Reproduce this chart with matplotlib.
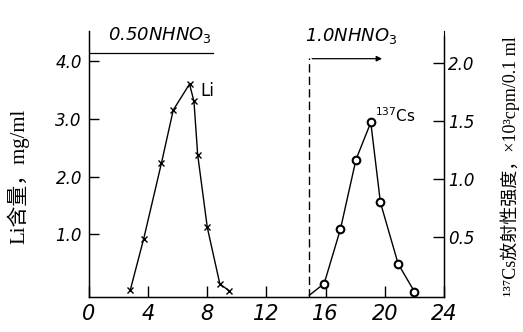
import matplotlib.pyplot as plt
from matplotlib.ticker import FixedLocator

# data
li_x = [2.8, 3.7, 4.9, 5.7, 6.8, 7.1, 7.35, 8.0, 8.85, 9.5]
li_y = [0.04, 0.92, 2.23, 3.15, 3.6, 3.3, 2.38, 1.12, 0.14, 0.02]

cs_x = [15.9, 17.0, 18.05, 19.05, 19.7, 20.9, 22.0]
cs_y = [0.10, 0.57, 1.17, 1.49, 0.80, 0.27, 0.03]
cs_start = (14.9, 0.0)   # curve starts at the eluent change

x_ticks = [0, 4, 8, 12, 16, 20, 24]
li_ticks = [1.0, 2.0, 3.0, 4.0]
li_tick_labels = ['1.0', '2.0', '3.0', '4.0']
cs_ticks = [0.5, 1.0, 1.5, 2.0]
cs_tick_labels = ['0.5', '1.0', '1.5', '2.0']

eluent_change = 14.9
left_ylabel = 'Li含量，mg/ml'
right_ylabel = '¹³⁷Cs放射性强度，×10³cpm/0.1 ml'

serif_cjk = ['Liberation Serif', 'Noto Sans CJK SC', 'DejaVu Serif']

fig = plt.figure(figsize=(5.23, 3.32), dpi=100)
ax = fig.add_axes([0.170, 0.105, 0.679, 0.802])
ax2 = ax.twinx()

ax.set_xlim(0, 24)
ax.set_ylim(-0.087, 4.52)
ax2.set_ylim(-0.017, 2.28)

# Li curve
ax.plot(li_x, li_y, color='black', lw=1.0, marker='x', ms=4.5, mew=1.0)
ax.text(7.5, 3.48, 'Li', fontsize=12, va='center', ha='left')

# Cs curve
ax2.plot([cs_start[0]] + cs_x, [cs_start[1]] + cs_y, color='black', lw=1.0)
ax2.plot(cs_x, cs_y, linestyle='none', marker='o', ms=5.5, mfc='white',
         mec='black', mew=1.5)
ax2.text(19.35, 1.55, '$^{137}$Cs', fontsize=11, va='center', ha='left')

# eluent marks
ax.plot([0, 8.4], [4.14, 4.14], color='black', lw=0.9)
ax.text(4.8, 4.45, '0.50$N$HNO$_3$', fontsize=13, style='italic',
        ha='center', va='center')
ax2.axvline(eluent_change, ymin=0.0, ymax=0.9, color='black', lw=1.0,
            ls=(0, (6, 3)))
ax2.annotate('', xy=(20.0, 2.04), xytext=(eluent_change, 2.04),
             arrowprops=dict(arrowstyle='-|>', color='black', lw=0.9,
                             mutation_scale=8))
ax2.text(17.75, 2.24, '1.0$N$HNO$_3$', fontsize=13, style='italic',
         ha='center', va='center')

# spines and ticks
ax.spines['top'].set_visible(False)
ax2.spines['top'].set_visible(False)
ax2.spines['right'].set_bounds(-0.017, 2.24)
for sp in ['left', 'bottom']:
    ax.spines[sp].set_linewidth(1.0)
ax2.spines['right'].set_linewidth(1.0)

ax.xaxis.set_major_locator(FixedLocator(x_ticks))
ax.set_xticklabels([str(t) for t in x_ticks], style='italic', fontsize=15)
ax.tick_params(axis='x', direction='in', length=8, width=1.0, pad=5)

ax.set_yticks(li_ticks)
ax.set_yticklabels(li_tick_labels, style='italic', fontsize=12)
ax.tick_params(axis='y', direction='in', length=7, width=1.0, pad=5)

ax2.set_yticks(cs_ticks)
ax2.set_yticklabels(cs_tick_labels, style='italic', fontsize=12)
ax2.tick_params(axis='y', direction='in', length=8, width=1.0, pad=3)

fig.text(0.034, 0.47, left_ylabel, rotation=90, fontsize=15,
         family=serif_cjk, ha='center', va='center')
fig.text(0.976, 0.50, right_ylabel, rotation=90, fontsize=13,
         family=serif_cjk, ha='center', va='center')

plt.savefig('out.png', dpi=100)
